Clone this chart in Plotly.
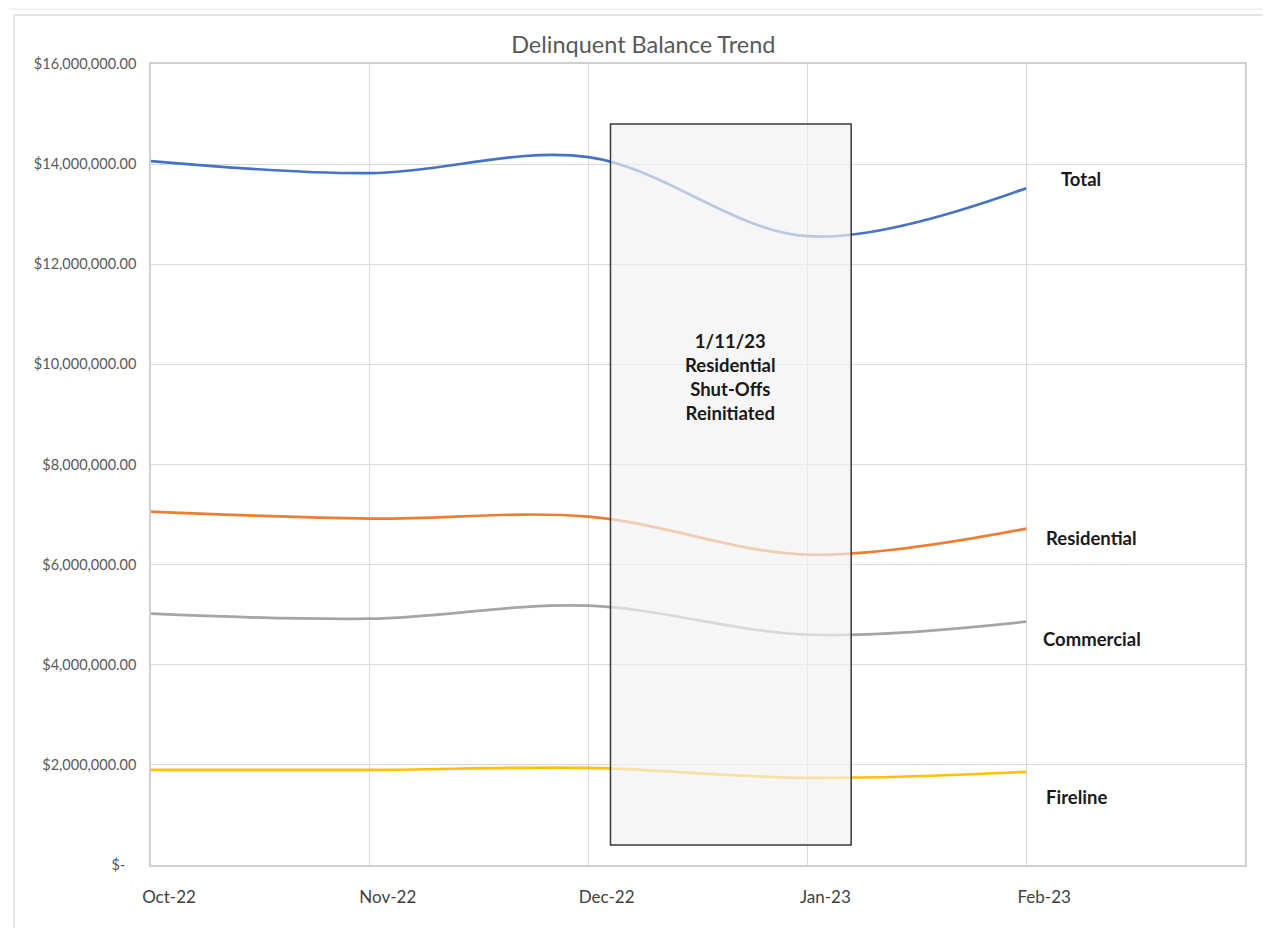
import plotly.graph_objects as go

months = ["Oct-22", "Nov-22", "Dec-22", "Jan-23", "Feb-23"]
total = [14060000, 13820000, 14140000, 12560000, 13520000]
residential = [7060000, 6920000, 6960000, 6200000, 6720000]
commercial = [5020000, 4920000, 5180000, 4600000, 4860000]
fireline = [1900000, 1900000, 1940000, 1740000, 1860000]

series_names = ["Total", "Residential", "Commercial", "Fireline"]
series_values = [total, residential, commercial, fireline]
series_colors = ["#4472C4", "#ED7D31", "#A5A5A5", "#FFC000"]
# label positions (category offset, value)
label_x = [4.25, 4.30, 4.30, 4.23]
label_y = [13700000, 6540000, 4520000, 1360000]

y_ticks = [0, 2000000, 4000000, 6000000, 8000000, 10000000, 12000000, 14000000, 16000000]
y_ticktext = ["$-\u00a0\u00a0\u00a0", "$2,000,000.00", "$4,000,000.00", "$6,000,000.00",
              "$8,000,000.00", "$10,000,000.00", "$12,000,000.00", "$14,000,000.00",
              "$16,000,000.00"]

note_text = "1/11/23<br>Residential<br>Shut-Offs<br>Reinitiated"
note_x = 2.65
note_y = 9750000

FONT = "Lato, 'Open Sans', sans-serif"
xs = list(range(len(months)))

fig = go.Figure()
for name, vals, col in zip(series_names, series_values, series_colors):
    fig.add_trace(go.Scatter(
        x=xs, y=vals, mode="lines", name=name,
        line=dict(color=col, width=2.7, shape="spline", smoothing=1.0),
        showlegend=False, hoverinfo="skip"))

shapes = [
    # outer frame
    dict(type="rect", xref="paper", yref="paper", x0=-0.2, x1=1.3, y0=1.0674, y1=1.0737,
         fillcolor="#f4f4f4", line=dict(width=0), layer="below"),
    dict(type="line", xref="paper", yref="paper", x0=-0.1251, x1=1.3, y0=1.0612, y1=1.0612,
         line=dict(color="#dcdcdc", width=1.5)),
    dict(type="line", xref="paper", yref="paper", x0=-0.1251, x1=-0.1251, y0=-0.2, y1=1.0612,
         line=dict(color="#dcdcdc", width=1.5)),
    # annotation box
    dict(type="rect", xref="x", yref="y", x0=2.10, x1=3.20, y0=400000, y1=14800000,
         fillcolor="rgba(242,242,242,0.68)", line=dict(color="#3a3a3a", width=1.5),
         layer="above"),
]

annotations = []
for name, lx, ly in zip(series_names, label_x, label_y):
    annotations.append(dict(x=lx, y=ly, xref="x", yref="y", text="<b>%s</b>" % name,
                            showarrow=False, font=dict(family=FONT, size=18.5, color="#1a1a1a")))
annotations.append(dict(x=note_x, y=note_y, xref="x", yref="y", text="<b>%s</b>" % note_text,
                        showarrow=False, align="center",
                        font=dict(family=FONT, size=18.5, color="#1a1a1a")))

fig.update_layout(
    width=1263, height=920,
    margin=dict(l=143, r=26, t=56, b=63),
    paper_bgcolor="white", plot_bgcolor="white",
    title=dict(text="Delinquent Balance Trend", x=0.503, xanchor="center",
               y=1 - 37 / 920, yanchor="middle", yref="container",
               font=dict(family=FONT, size=23.5, color="#595959")),
    shapes=shapes, annotations=annotations,
    xaxis=dict(range=[0, 5], tickvals=xs, ticktext=months,
               showgrid=True, gridcolor="#d9d9d9", gridwidth=1,
               showline=True, linecolor="#d0d0d0", linewidth=1.5, mirror=True,
               ticks="", zeroline=False, ticklabelshift=18, ticklabelstandoff=16,
               tickfont=dict(family=FONT, size=17, color="#404040")),
    yaxis=dict(range=[0, 16000000], tickvals=y_ticks, ticktext=y_ticktext,
               showgrid=True, gridcolor="#d9d9d9", gridwidth=1,
               showline=True, linecolor="#d0d0d0", linewidth=1.5, mirror=True,
               ticks="", zeroline=False, ticklabelstandoff=10,
               tickfont=dict(family=FONT, size=14.5, color="#595959")),
)

fig.write_html("out.html")
